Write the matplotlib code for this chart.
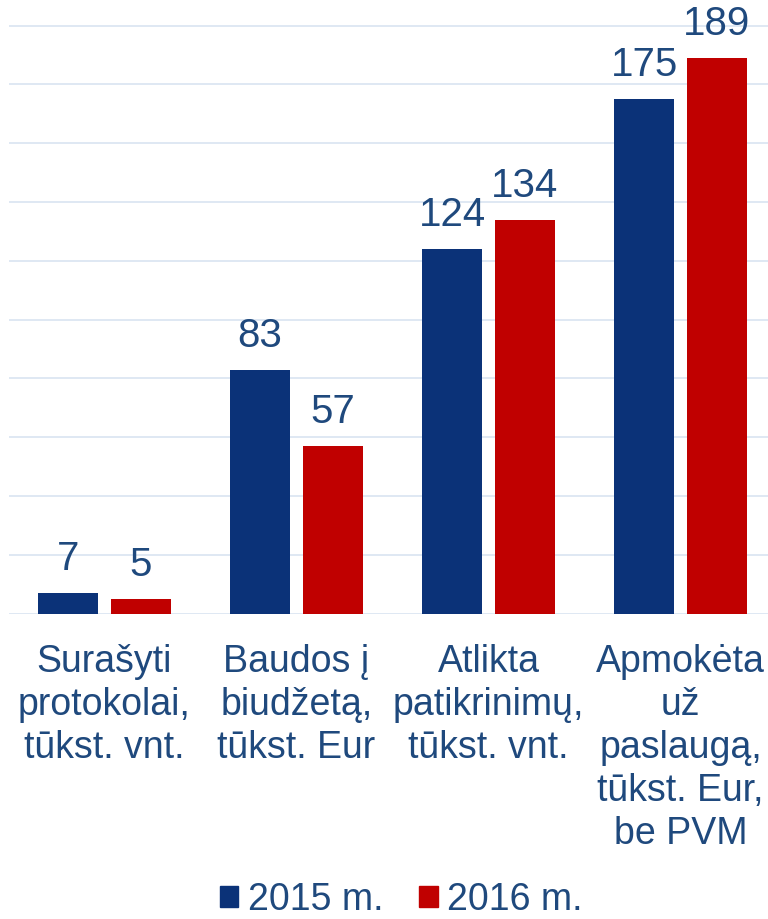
import matplotlib
matplotlib.use('Agg')
from matplotlib import pyplot as plt
from matplotlib.patches import Patch
import numpy as np

plt.rcParams['font.family'] = ['Liberation Sans', 'DejaVu Sans']

categories = ['Surašyti\nprotokolai,\ntūkst. vnt.',
              'Baudos į\nbiudžetą,\ntūkst. Eur',
              'Atlikta\npatikrinimų,\ntūkst. vnt.',
              'Apmokėta\nuž\npaslaugą,\ntūkst. Eur,\nbe PVM']
series_names = ['2015 m.', '2016 m.']
vals_2015 = [7, 83, 124, 175]
vals_2016 = [5, 57, 134, 189]

blue = '#0B3278'
red = '#C00000'
txt = '#1F497D'
grid = '#DCE6F2'

fig = plt.figure(figsize=(7.68, 9.19), dpi=100)
H = 919.0
ax = fig.add_axes([8.5/768, (H-613.7)/H, 768/768, 613.7/H])

x = np.arange(len(categories))
w = 0.31
off = 0.19
b1 = ax.bar(x-off, vals_2015, w, color=blue, zorder=3)
b2 = ax.bar(x+off, vals_2016, w, color=red, zorder=3)

for bars, vals in [(b1, vals_2015), (b2, vals_2016)]:
    for r, v in zip(bars, vals):
        ax.annotate(str(v), (r.get_x()+r.get_width()/2, v), xytext=(0, 16.5),
                    textcoords='offset points', ha='center', va='baseline',
                    fontsize=29, color=txt, clip_on=False)

ax.set_xlim(-0.5, 3.5)
ax.set_ylim(0, 208.7)
ax.set_yticks(np.arange(0, 201, 20))
ax.yaxis.grid(True, color=grid, linewidth=1.3, zorder=0)
ax.tick_params(left=False, labelleft=False, bottom=False, labelbottom=False)
for s in ax.spines.values():
    s.set_visible(False)

for i, c in enumerate(categories):
    ax.text(i, -10.2, c, ha='center', va='top', fontsize=27, color=txt,
            linespacing=1.25)

handles = [Patch(color=blue), Patch(color=red)]
fig.legend(handles, series_names, loc='center', bbox_to_anchor=(401/768, 1-900/H),
           ncol=2, frameon=False, fontsize=27, labelcolor=txt,
           handlelength=0.5, handleheight=0.5, handletextpad=0.25,
           columnspacing=0.95, borderpad=0, borderaxespad=0)

fig.savefig('out.png', dpi=100)
